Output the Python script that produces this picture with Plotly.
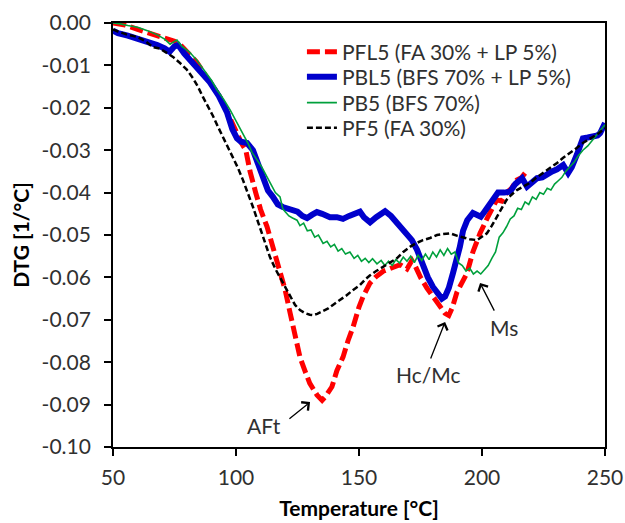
import plotly.graph_objects as go

# ---- data ----
pfl5_T = [50, 55, 60, 65, 70, 75, 78, 81, 84, 87, 90, 93.5, 96, 98, 100.4, 102.4, 104, 105.7, 108, 110,
          112.6, 115, 118, 120, 122, 124, 126, 128, 130, 132.9, 134, 135, 136.5, 139, 141, 143.5, 145.5,
          147.6, 150, 151.6, 154.5, 157, 160, 163.8, 166.7, 169.5, 171.5, 173, 175, 177.6, 180, 183, 185,
          186.5, 188, 189.8, 192, 193.9, 196.3, 199.2, 202.4, 204, 206, 208, 210, 212, 214.2, 216, 217.5]
pfl5_v = [0.000, -0.0005, -0.0015, -0.0025, -0.0035, -0.0043, -0.0055, -0.0072, -0.0092, -0.0118, -0.0145,
          -0.0175, -0.0205, -0.0232, -0.0260, -0.0285, -0.0300, -0.0350, -0.0400, -0.0440, -0.0480, -0.0530,
          -0.0585, -0.0630, -0.0684, -0.0735, -0.0788, -0.0820, -0.0850, -0.0877, -0.0885, -0.0890, -0.0880,
          -0.0858, -0.0820, -0.0788, -0.0750, -0.0717, -0.0670, -0.0646, -0.0613, -0.0598, -0.0585, -0.0575,
          -0.0570, -0.0580, -0.0560, -0.0575, -0.0600, -0.0625, -0.0645, -0.0670, -0.0685, -0.0690, -0.0670,
          -0.0635, -0.0610, -0.0590, -0.0540, -0.0496, -0.0457, -0.0440, -0.0417, -0.0420, -0.0400, -0.0390,
          -0.0370, -0.0365, -0.0354]

pbl5_T = [50, 52, 56, 60, 64, 68, 71, 73, 75, 76.5, 79, 82.5, 86, 89.4, 93, 96.3, 98.5, 100.4, 102, 104.5,
          106.9, 109, 111, 113, 115, 117, 119, 121, 123, 125, 127, 128.9, 131, 132.9, 135, 138.2, 141,
          143.5, 146, 148, 150.4, 152, 154.5, 157, 160.6, 163, 165.4, 167.5, 169.5, 171.5, 173.6, 176, 178,
          180, 182, 183.7, 185, 186.5, 188.2, 190, 191, 192.3, 194, 196.3, 198, 199.5, 201, 203, 204.5,
          206.5, 209, 211.4, 213.5, 216.3, 218.3, 220, 222.4, 224.5, 226.4, 228.5, 230.5, 233, 235, 236.5,
          238.6, 240, 241, 243, 245, 247, 248, 250]
pbl5_v = [-0.0018, -0.0024, -0.0030, -0.0037, -0.0043, -0.0052, -0.0060, -0.0068, -0.0055, -0.0052, -0.0072,
          -0.0094, -0.0118, -0.0140, -0.0172, -0.0210, -0.0250, -0.0272, -0.0280, -0.0283, -0.0300, -0.0335,
          -0.0370, -0.0395, -0.0410, -0.0428, -0.0434, -0.0437, -0.0441, -0.0445, -0.0455, -0.0460, -0.0452,
          -0.0446, -0.0450, -0.0458, -0.0458, -0.0462, -0.0455, -0.0450, -0.0445, -0.0458, -0.0470, -0.0458,
          -0.0444, -0.0455, -0.0470, -0.0482, -0.0495, -0.0512, -0.0535, -0.0575, -0.0600, -0.0622, -0.0640,
          -0.0650, -0.0645, -0.0625, -0.0590, -0.0555, -0.0528, -0.0490, -0.0465, -0.0448, -0.0452, -0.0457,
          -0.0445, -0.0430, -0.0417, -0.0400, -0.0400, -0.0398, -0.0380, -0.0366, -0.0386, -0.0378, -0.0366,
          -0.0364, -0.0356, -0.0350, -0.0345, -0.0335, -0.0354, -0.0340, -0.0310, -0.0285, -0.0272, -0.0270,
          -0.0269, -0.0265, -0.0260, -0.0236]

pb5_T = [50, 53, 56, 60, 64, 68, 71, 73.2, 74.5, 76, 78, 81, 84, 87, 90, 92.3, 95, 97.6, 100, 102.8, 105,
         106.5, 108.5, 110.5, 112.6, 114, 116, 117.9, 119, 120, 121.5, 123, 124.8, 126, 127.5, 129, 130.5,
         132, 133.5, 135.4, 137, 138.5, 140, 141.5, 143, 144.5, 146.3, 148, 149.5, 151, 152.5, 154, 155.5,
         157.3, 159, 160.5, 162, 163.5, 165, 166.5, 168, 169.5, 171, 172.5, 174, 175.5, 177, 178.5, 180,
         181.5, 183, 184.5, 186, 187.5, 189, 190.5, 192, 193.5, 195, 196.5, 198, 199.5, 201, 202.5, 204,
         205.5, 207, 208.5, 210, 211.5, 213, 214.5, 216, 217.5, 219, 220.5, 222, 223.5, 225, 226.5, 228,
         229.5, 231, 232.5, 234, 236, 237.5, 239, 241, 243, 245, 247, 248.5, 250]
pb5_v = [0.000, -0.0002, -0.0006, -0.0010, -0.0018, -0.0028, -0.0038, -0.0050, -0.0045, -0.0040, -0.0055,
         -0.0068, -0.0087, -0.0110, -0.0135, -0.0158, -0.0180, -0.0205, -0.0230, -0.0260, -0.0285, -0.0305,
         -0.0323, -0.0340, -0.0363, -0.0378, -0.0400, -0.0410, -0.0438, -0.0445, -0.0455, -0.0460, -0.0465,
         -0.0478, -0.0472, -0.0490, -0.0488, -0.0505, -0.0500, -0.0520, -0.0515, -0.0528, -0.0522, -0.0538,
         -0.0532, -0.0545, -0.0540, -0.0555, -0.0548, -0.0562, -0.0555, -0.0565, -0.0556, -0.0568, -0.0560,
         -0.0572, -0.0562, -0.0572, -0.0558, -0.0566, -0.0552, -0.0562, -0.0550, -0.0565, -0.0548, -0.0560,
         -0.0545, -0.0558, -0.0540, -0.0552, -0.0535, -0.0548, -0.0532, -0.0545, -0.0540, -0.0566, -0.0572,
         -0.0585, -0.0578, -0.0592, -0.0585, -0.0592, -0.0582, -0.0572, -0.0555, -0.0540, -0.0505, -0.0495,
         -0.0480, -0.0462, -0.0455, -0.0437, -0.0440, -0.0422, -0.0428, -0.0410, -0.0416, -0.0400, -0.0404,
         -0.0390, -0.0394, -0.0380, -0.0372, -0.0364, -0.0350, -0.0336, -0.0328, -0.0314, -0.0300, -0.0290,
         -0.0276, -0.0260, -0.0250, -0.0240]

pf5_T = [50, 52, 56, 60, 63, 66.3, 69, 72, 74.4, 77, 80, 82.5, 84.5, 86.6, 88.7, 90.7, 92.7, 94.7, 96.8,
         98.8, 100.8, 102.8, 104.8, 106.9, 109, 111, 113.8, 116, 117.9, 120, 122, 124, 126, 128, 130, 131.3,
         133, 135.4, 137.5, 139.4, 142, 145, 147.5, 150.4, 152.5, 154.5, 157, 159.8, 162.5, 165.4, 168,
         170.7, 173, 176, 178.9, 181.7, 184, 187, 190, 192.3, 195, 198, 200, 202, 204, 206, 208, 210, 212,
         214.2, 217, 219.5, 222, 224.8, 227.5, 230.5, 233, 235.8, 238.5, 241, 243, 245, 247.5, 250]
pf5_v = [-0.0015, -0.0020, -0.0028, -0.0033, -0.0042, -0.0057, -0.0060, -0.0070, -0.0080, -0.0093, -0.0110,
         -0.0130, -0.0150, -0.0175, -0.0197, -0.0220, -0.0245, -0.0269, -0.0292, -0.0316, -0.0342, -0.0370,
         -0.0400, -0.0434, -0.0470, -0.0505, -0.0552, -0.0580, -0.0600, -0.0625, -0.0646, -0.0665, -0.0677,
         -0.0684, -0.0688, -0.0689, -0.0686, -0.0680, -0.0673, -0.0665, -0.0655, -0.0642, -0.0630, -0.0618,
         -0.0605, -0.0595, -0.0585, -0.0575, -0.0565, -0.0555, -0.0540, -0.0528, -0.0520, -0.0512, -0.0507,
         -0.0500, -0.0498, -0.0496, -0.0502, -0.0505, -0.0510, -0.0512, -0.0505, -0.0496, -0.0478, -0.0457,
         -0.0437, -0.0417, -0.0405, -0.0394, -0.0385, -0.0377, -0.0365, -0.0354, -0.0342, -0.0330, -0.0318,
         -0.0307, -0.0295, -0.0283, -0.0276, -0.0269, -0.0260, -0.0248]

series_names = ["PFL5 (FA 30% + LP 5%)", "PBL5 (BFS 70% + LP 5%)", "PB5 (BFS 70%)", "PF5 (FA 30%)"]

# annotations: label, arrow head (T, v), arrow tail (T, v), label position (T, v)
ann_labels = ["AFt", "Hc/Mc", "Ms"]
ann_head = [(130.1, -0.0894), (185.0, -0.0705), (199.2, -0.0613)]
ann_tail = [(121.1, -0.0936), (178.9, -0.0795), (205.3, -0.0682)]
ann_text = [(111.5, -0.0950), (178.0, -0.0830), (209.0, -0.0719)]

x_ticks = [50, 100, 150, 200, 250]
y_ticks = [0.00, -0.01, -0.02, -0.03, -0.04, -0.05, -0.06, -0.07, -0.08, -0.09, -0.10]

FONT = "Lato"
TXT = "#303030"

fig = go.Figure()
fig.add_trace(go.Scatter(x=pfl5_T, y=pfl5_v, mode="lines", name=series_names[0], legend="legend",
                         line=dict(color="#FF0000", width=5, dash="13px,5px")))
fig.add_trace(go.Scatter(x=pbl5_T, y=pbl5_v, mode="lines", name=series_names[1], legend="legend2",
                         line=dict(color="#0000CC", width=6)))
fig.add_trace(go.Scatter(x=pb5_T, y=pb5_v, mode="lines", name=series_names[2], legend="legend3",
                         line=dict(color="#00A03C", width=1.6)))
fig.add_trace(go.Scatter(x=pf5_T, y=pf5_v, mode="lines", name=series_names[3], legend="legend4",
                         line=dict(color="#000000", width=2.5, dash="6px,3px")))

for lab, h, t, p in zip(ann_labels, ann_head, ann_tail, ann_text):
    fig.add_annotation(x=h[0], y=h[1], ax=t[0], ay=t[1], xref="x", yref="y", axref="x", ayref="y",
                       text="", showarrow=True, arrowhead=4, arrowsize=1.6, arrowwidth=1.3,
                       arrowcolor="#000000")
    fig.add_annotation(x=p[0], y=p[1], xref="x", yref="y", text=lab, showarrow=False,
                       font=dict(family=FONT, size=21, color=TXT))

leg_font = dict(family=FONT, size=21, color=TXT)
leg_x = 0.384
leg_rows = [0.9316, 0.8726, 0.8113, 0.7524]
legends = {}
for i, yy in enumerate(leg_rows):
    key = "legend" if i == 0 else f"legend{i+1}"
    legends[key] = dict(x=leg_x, y=yy, xanchor="left", yanchor="middle", bgcolor="rgba(0,0,0,0)",
                        font=leg_font, itemwidth=30)

fig.update_layout(
    width=625, height=523,
    margin=dict(l=113, r=20, t=23, b=76, autoexpand=False),
    plot_bgcolor="white", paper_bgcolor="white",
    font=dict(family=FONT, size=21, color=TXT),
    showlegend=True,
    **legends,
    xaxis=dict(range=[50, 250], tickvals=x_ticks, ticktext=[str(v) for v in x_ticks],
               showgrid=False, zeroline=False, showline=True, linecolor="black", linewidth=1.8,
               mirror=True, ticks="outside", ticklen=7, tickwidth=1.8, tickcolor="black",
               automargin=False, ticklabelstandoff=4,
               title=dict(text="<b>Temperature [°C]</b>", font=dict(family=FONT, size=21, color="#000000"),
                          standoff=13)),
    yaxis=dict(range=[-0.10, 0.0], tickvals=y_ticks, ticktext=[f"{v:.2f}" for v in y_ticks],
               showgrid=False, zeroline=False, showline=True, linecolor="black", linewidth=1.8,
               mirror=True, ticks="outside", ticklen=7, tickwidth=1.8, tickcolor="black",
               automargin=False, ticklabelstandoff=9,
               title=dict(text="<b>DTG [1/°C]</b>", font=dict(family=FONT, size=21, color="#000000"),
                          standoff=6)),
)

fig.write_html("out.html")
